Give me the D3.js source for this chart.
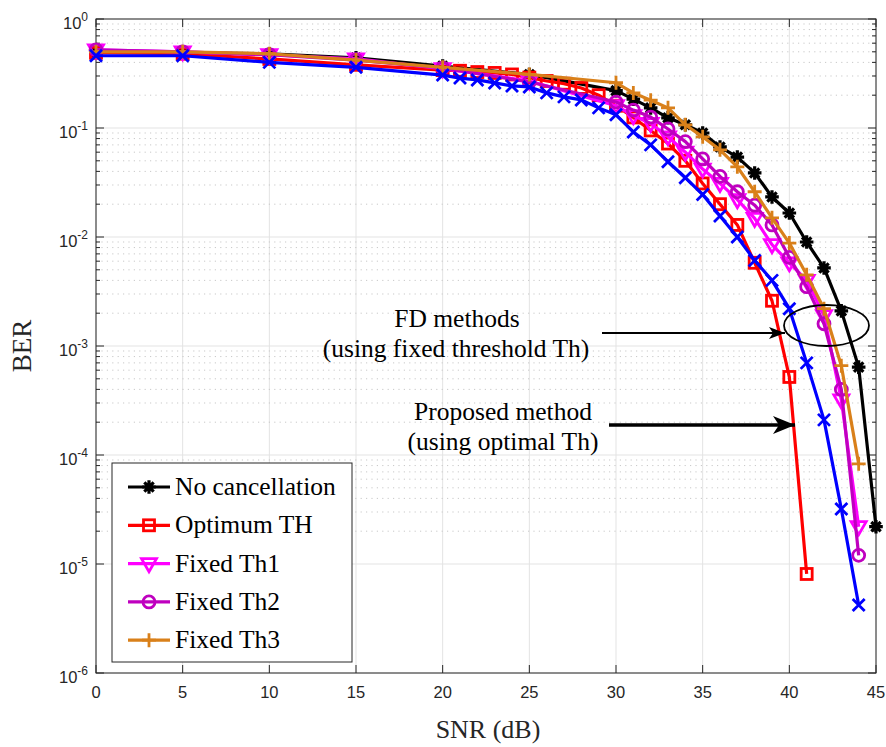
<!DOCTYPE html>
<html>
<head>
<meta charset="utf-8">
<script src="https://cdn.jsdelivr.net/npm/d3@7"></script>
<style>
  html, body { margin: 0; padding: 0; background: #fff; }
  svg { display: block; }
</style>
</head>
<body>
<svg id="chart" width="886" height="747"></svg>
<script>
// SNR grids (dB) for each curve
const snrNoCancel = [0, 5, 10, 15, 20, 25, 30, 31, 32, 33, 34, 35, 36, 37, 38, 39, 40, 41, 42, 43, 44, 45];
const snrFixed    = [0, 5, 10, 15, 20, 25, 30, 31, 32, 33, 34, 35, 36, 37, 38, 39, 40, 41, 42, 43, 44];
const snrOptimum  = [0, 5, 10, 15, 20, 21, 22, 23, 24, 25, 26, 27, 28, 29, 30, 31, 32, 33, 34, 35, 36, 37, 38, 39, 40, 41];
const snrBlue     = [0, 5, 10, 15, 20, 21, 22, 23, 24, 25, 26, 27, 28, 29, 30, 31, 32, 33, 34, 35, 36, 37, 38, 39, 40, 41, 42, 43, 44];

// BER values
const berNoCancel = [0.50, 0.49, 0.48, 0.44, 0.37, 0.31, 0.22, 0.184, 0.153, 0.124, 0.107, 0.090, 0.067, 0.054, 0.0387, 0.0233, 0.0166, 0.0090, 0.0052, 0.0021, 6.4e-4, 2.2e-5];
const berOptimum  = [0.49, 0.48, 0.43, 0.38, 0.34, 0.335, 0.326, 0.32, 0.31, 0.29, 0.27, 0.255, 0.233, 0.20, 0.16, 0.125, 0.095, 0.072, 0.050, 0.031, 0.020, 0.0129, 0.0058, 0.0026, 5.2e-4, 8.1e-6];
const berFixedTh1 = [0.52, 0.50, 0.47, 0.43, 0.35, 0.27, 0.16, 0.13, 0.11, 0.083, 0.060, 0.042, 0.031, 0.022, 0.0148, 0.0085, 0.0058, 0.0040, 0.0019, 3.2e-4, 2.2e-5];
const berFixedTh2 = [0.52, 0.50, 0.47, 0.42, 0.355, 0.264, 0.173, 0.146, 0.126, 0.098, 0.075, 0.052, 0.036, 0.026, 0.0196, 0.0129, 0.0065, 0.0035, 0.0016, 4.0e-4, 1.2e-5];
const berFixedTh3 = [0.50, 0.50, 0.48, 0.42, 0.36, 0.31, 0.26, 0.21, 0.18, 0.153, 0.107, 0.083, 0.063, 0.044, 0.026, 0.015, 0.0088, 0.0045, 0.0022, 6.6e-4, 8.3e-5];
const berBlue     = [0.46, 0.46, 0.40, 0.36, 0.306, 0.287, 0.276, 0.259, 0.243, 0.238, 0.21, 0.193, 0.181, 0.153, 0.132, 0.092, 0.070, 0.049, 0.035, 0.0245, 0.0156, 0.010, 0.0061, 0.0040, 0.0022, 7.0e-4, 2.1e-4, 3.2e-5, 4.2e-6];

// Axis ticks
const xTicks = [0, 5, 10, 15, 20, 25, 30, 35, 40, 45];
const yExponents = [0, -1, -2, -3, -4, -5, -6];

const legendNames = ["No cancellation", "Optimum TH", "Fixed Th1", "Fixed Th2", "Fixed Th3"];

const series = [
  { name: legendNames[0], x: snrNoCancel, y: berNoCancel, color: "#000000", marker: "asterisk" },
  { name: legendNames[1], x: snrOptimum,  y: berOptimum,  color: "#ff0000", marker: "square" },
  { name: legendNames[2], x: snrFixed,    y: berFixedTh1, color: "#ff00ff", marker: "triangleDown" },
  { name: legendNames[3], x: snrFixed,    y: berFixedTh2, color: "#bf00bf", marker: "circle" },
  { name: legendNames[4], x: snrFixed,    y: berFixedTh3, color: "#d9801a", marker: "plus" },
  { name: null,           x: snrBlue,     y: berBlue,     color: "#0000ff", marker: "cross" }
];

(function draw() {
const svg = d3.select("#chart");
const pLeft = 96, pRight = 876, pTop = 19, pBottom = 673;

const x = d3.scaleLinear().domain([0, 45]).range([pLeft, pRight]);
const y = d3.scaleLog().domain([1e-6, 1]).range([pBottom, pTop]);

// Grid
const grid = svg.append("g");
xTicks.forEach(t => {
  grid.append("line").attr("x1", x(t)).attr("x2", x(t)).attr("y1", pTop).attr("y2", pBottom)
    .attr("stroke", "#e3e3e3").attr("stroke-width", 1);
});
yExponents.forEach(e => {
  const base = Math.pow(10, e);
  grid.append("line").attr("x1", pLeft).attr("x2", pRight).attr("y1", y(base)).attr("y2", y(base))
    .attr("stroke", "#e3e3e3").attr("stroke-width", 1);
  if (e > -6) {
    for (let m = 2; m <= 9; m++) {
      const v = m * base;
      grid.append("line").attr("x1", pLeft).attr("x2", pRight).attr("y1", y(v)).attr("y2", y(v))
        .attr("stroke", "#c8c8c8").attr("stroke-width", 1).attr("stroke-dasharray", "1.2,4.2");
    }
  }
});

// Axes box and inward ticks
const axes = svg.append("g").attr("stroke", "#262626").attr("stroke-width", 1);
axes.append("rect").attr("x", pLeft).attr("y", pTop).attr("width", pRight - pLeft).attr("height", pBottom - pTop)
  .attr("fill", "none");
xTicks.forEach(t => {
  axes.append("line").attr("x1", x(t)).attr("x2", x(t)).attr("y1", pBottom).attr("y2", pBottom - 8);
  axes.append("line").attr("x1", x(t)).attr("x2", x(t)).attr("y1", pTop).attr("y2", pTop + 8);
});
yExponents.forEach(e => {
  const base = Math.pow(10, e);
  axes.append("line").attr("x1", pLeft).attr("x2", pLeft + 8).attr("y1", y(base)).attr("y2", y(base));
  axes.append("line").attr("x1", pRight).attr("x2", pRight - 8).attr("y1", y(base)).attr("y2", y(base));
  if (e > -6) {
    for (let m = 2; m <= 9; m++) {
      const v = m * base;
      axes.append("line").attr("x1", pLeft).attr("x2", pLeft + 4).attr("y1", y(v)).attr("y2", y(v));
      axes.append("line").attr("x1", pRight).attr("x2", pRight - 4).attr("y1", y(v)).attr("y2", y(v));
    }
  }
});

// Tick labels
const tickFont = "'Liberation Sans', Arial, Helvetica, sans-serif";
svg.append("g").selectAll("text").data(xTicks).join("text")
  .attr("x", d => x(d)).attr("y", 698)
  .attr("text-anchor", "middle").attr("font-family", tickFont).attr("font-size", 16.5)
  .attr("fill", "#262626").text(d => d);

const yl = svg.append("g");
yExponents.forEach(e => {
  const t = yl.append("text").attr("x", 88).attr("y", y(Math.pow(10, e)) + 10)
    .attr("text-anchor", "end").attr("font-family", tickFont).attr("font-size", 16.5).attr("fill", "#262626");
  t.append("tspan").text("10");
  t.append("tspan").attr("dy", -8).attr("font-size", 12).text(e);
});

// Axis titles
const serif = "'Liberation Serif', 'Times New Roman', serif";
svg.append("text").attr("x", 488).attr("y", 738).attr("text-anchor", "middle")
  .attr("font-family", serif).attr("font-size", 26).attr("fill", "#262626").text("SNR (dB)");
svg.append("text").attr("transform", "translate(31,346) rotate(-90)").attr("text-anchor", "middle")
  .attr("font-family", serif).attr("font-size", 27).attr("fill", "#262626").text("BER");

// Marker shapes
function drawMarker(g, type, cx, cy, color) {
  const r = 6;
  const common = sel => sel.attr("stroke", color).attr("stroke-width", 2.8).attr("fill", "none");
  if (type === "square") {
    common(g.append("rect").attr("x", cx - r + 0.5).attr("y", cy - r + 0.5).attr("width", 2 * r - 1).attr("height", 2 * r - 1));
  } else if (type === "circle") {
    common(g.append("circle").attr("cx", cx).attr("cy", cy).attr("r", r));
  } else if (type === "triangleDown") {
    common(g.append("path").attr("d", `M${cx - r - 1.5},${cy - r + 1}L${cx + r + 1.5},${cy - r + 1}L${cx},${cy + r + 2}Z`));
  } else if (type === "plus") {
    common(g.append("path").attr("d", `M${cx - r - 1},${cy}L${cx + r + 1},${cy}M${cx},${cy - r - 1}L${cx},${cy + r + 1}`));
  } else if (type === "cross") {
    const d = r;
    common(g.append("path").attr("d", `M${cx - d},${cy - d}L${cx + d},${cy + d}M${cx - d},${cy + d}L${cx + d},${cy - d}`));
  } else if (type === "asterisk") {
    const d = r * 0.78, s = r + 0.8;
    common(g.append("path").attr("d",
      `M${cx - s},${cy}L${cx + s},${cy}M${cx},${cy - s}L${cx},${cy + s}` +
      `M${cx - d},${cy - d}L${cx + d},${cy + d}M${cx - d},${cy + d}L${cx + d},${cy - d}`))
      .attr("stroke-width", 3.2);
  }
}

// Curves
const line = d3.line().x(d => x(d[0])).y(d => y(d[1]));
const plot = svg.append("g");
series.forEach(s => {
  const pts = s.x.map((v, i) => [v, s.y[i]]);
  const g = plot.append("g");
  g.append("path").attr("d", line(pts)).attr("fill", "none").attr("stroke", s.color)
    .attr("stroke-width", 3.2).attr("stroke-linejoin", "round");
  pts.forEach(p => drawMarker(g, s.marker, x(p[0]), y(p[1]), s.color));
});

// Annotations
const ann = svg.append("g");
const defs = svg.append("defs");
defs.append("marker").attr("id", "headThin").attr("viewBox", "0 0 16 12").attr("refX", 16).attr("refY", 6)
  .attr("markerWidth", 16).attr("markerHeight", 12).attr("markerUnits", "userSpaceOnUse").attr("orient", "auto")
  .append("path").attr("d", "M0,0L16,6L0,12L4,6Z").attr("fill", "#000");
defs.append("marker").attr("id", "headThick").attr("viewBox", "0 0 22 18").attr("refX", 22).attr("refY", 9)
  .attr("markerWidth", 22).attr("markerHeight", 18).attr("markerUnits", "userSpaceOnUse").attr("orient", "auto")
  .append("path").attr("d", "M0,0L22,9L0,18L6,9Z").attr("fill", "#000");

ann.append("line").attr("x1", 602).attr("y1", 333).attr("x2", 785).attr("y2", 333)
  .attr("stroke", "#000").attr("stroke-width", 1.8).attr("marker-end", "url(#headThin)");
ann.append("ellipse").attr("cx", 826.5).attr("cy", 325.5).attr("rx", 42.5).attr("ry", 20.5)
  .attr("fill", "none").attr("stroke", "#000").attr("stroke-width", 1.8);
ann.append("line").attr("x1", 609).attr("y1", 425).attr("x2", 795).attr("y2", 425)
  .attr("stroke", "#000").attr("stroke-width", 3.5).attr("marker-end", "url(#headThick)");

const annText = [
  { t: "FD methods", x: 457, y: 327 },
  { t: "(using fixed threshold Th)", x: 456, y: 357 },
  { t: "Proposed method", x: 503, y: 420 },
  { t: "(using optimal Th)", x: 503, y: 450 }
];
annText.forEach(a => {
  ann.append("text").attr("x", a.x).attr("y", a.y).attr("text-anchor", "middle")
    .attr("font-family", serif).attr("font-size", 25.5).attr("fill", "#000").text(a.t);
});

// Legend
const leg = svg.append("g");
leg.append("rect").attr("x", 112).attr("y", 463).attr("width", 240).attr("height", 199)
  .attr("fill", "#fff").attr("stroke", "#262626").attr("stroke-width", 1);
series.filter(s => s.name).forEach((s, i) => {
  const cy = 487 + i * 38.3;
  const g = leg.append("g");
  g.append("line").attr("x1", 128).attr("x2", 170).attr("y1", cy).attr("y2", cy)
    .attr("stroke", s.color).attr("stroke-width", 3.2);
  drawMarker(g, s.marker, 149, cy, s.color);
  g.append("text").attr("x", 175).attr("y", cy + 8).attr("font-family", serif).attr("font-size", 25.5)
    .attr("fill", "#000").text(s.name);
});
})();
</script>
</body>
</html>
